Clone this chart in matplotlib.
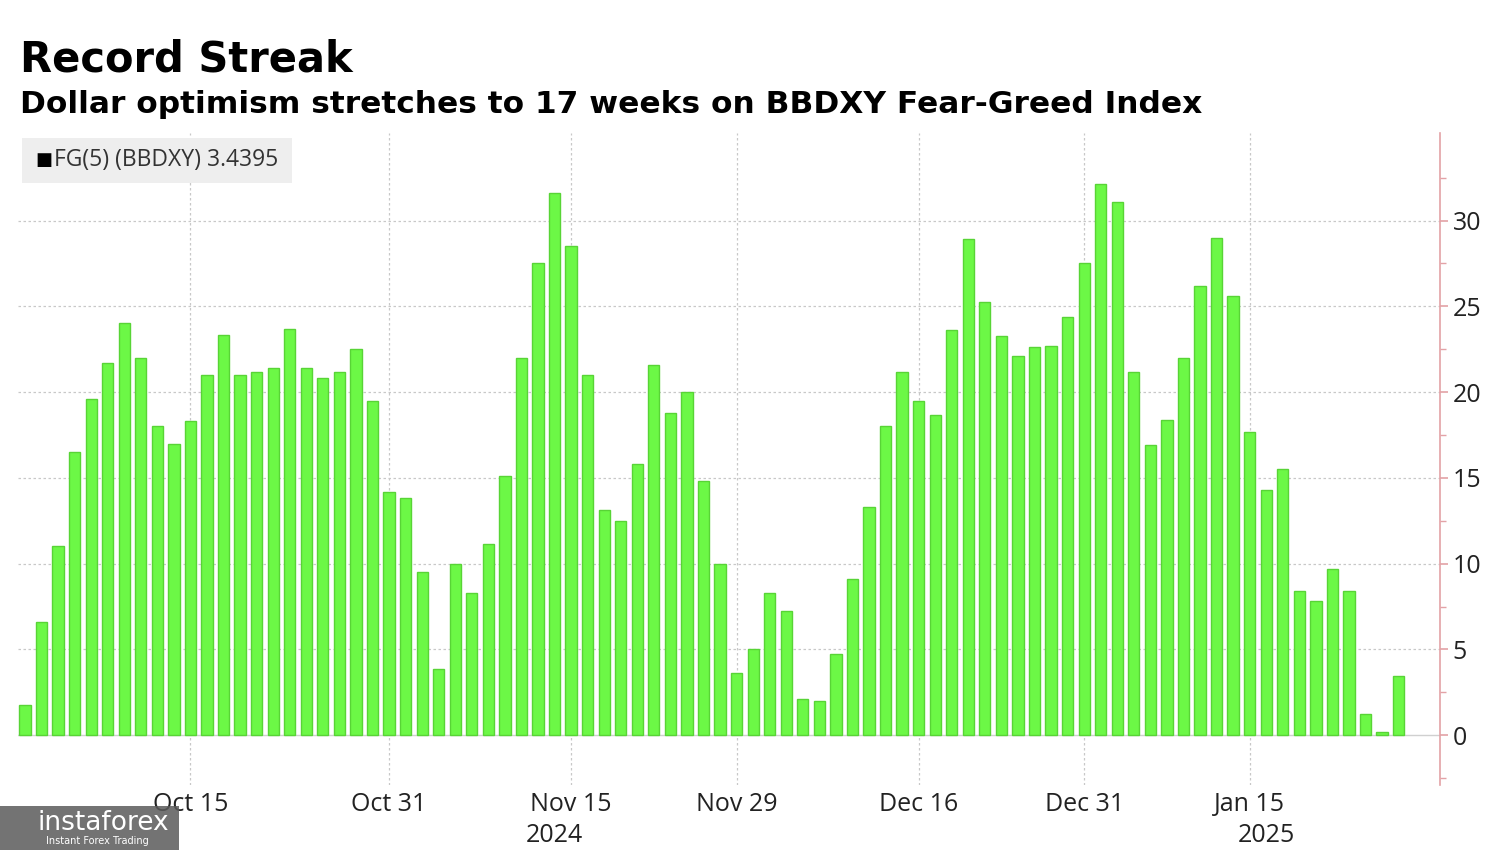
import pandas as pd
import numpy as np
import matplotlib.pyplot as plt
from matplotlib.transforms import blended_transform_factory
from matplotlib.patches import Rectangle

# daily (business day) FG(5) values, Oct 1 2024 - Jan 28 2025
values = [1.75, 6.6, 11.0, 16.5, 19.6, 21.7, 24.0, 22.0, 18.0, 17.0,
          18.3, 21.0, 23.3, 21.0, 21.15, 21.4, 23.7, 21.4, 20.8, 21.15,
          22.5, 19.5, 14.2, 13.85, 9.5, 3.85, 10.0, 8.3, 11.15, 15.1,
          22.0, 27.5, 31.6, 28.5, 21.0, 13.1, 12.5, 15.8, 21.6, 18.8,
          20.0, 14.8, 9.96, 3.6, 5.05, 8.3, 7.26, 2.14, 1.97, 4.74,
          9.1, 13.3, 18.0, 21.2, 19.5, 18.65, 23.6, 28.9, 25.25, 23.26,
          22.1, 22.65, 22.7, 24.4, 27.5, 32.1, 31.1, 21.2, 16.9, 18.35,
          22.0, 26.2, 29.0, 25.6, 17.7, 14.3, 15.5, 8.4, 7.8, 9.7,
          8.4, 1.25, 0.18, 3.4395]
holidays = ['2024-12-25', '2025-01-01']
dates = pd.bdate_range('2024-10-01', '2025-01-28', freq='C', holidays=holidays)

tick_dates = ['2024-10-15', '2024-10-31', '2024-11-15', '2024-11-29',
              '2024-12-16', '2024-12-31', '2025-01-15']
tick_labels = ['Oct 15', 'Oct 31', 'Nov 15', 'Nov 29', 'Dec 16', 'Dec 31', 'Jan 15']
year_labels = ['2024', '2025']
year_pos = ['2024-11-14', '2025-01-16']

bar_green = '#6cf846'
edge_green = '#58d436'
axis_red = '#e3a2a6'
grid_col = '#c8c8c8'

fig = plt.figure(figsize=(15, 8.5), dpi=100)
ax = fig.add_axes([0.012, 0.0765, 0.948, 0.767])

x = np.arange(len(values))
ax.bar(x, values, width=0.68, color=bar_green, edgecolor=edge_green, linewidth=1.0, zorder=3)

ax.set_xlim(-0.42, 85.5)
ax.set_ylim(-2.9, 35.1)

# gridlines
idx = {d.strftime('%Y-%m-%d'): i for i, d in enumerate(dates)}
tick_pos = [idx[d] for d in tick_dates]
for p in tick_pos:
    ax.axvline(p, color=grid_col, ls=(0, (2, 2)), lw=0.9, zorder=1)
for v in range(5, 35, 5):
    ax.axhline(v, color=grid_col, ls=(0, (2, 2)), lw=0.9, zorder=1)
ax.axhline(0, color='#d0d0d0', lw=1.0, zorder=2)

ax.set_xticks(tick_pos)
ax.set_xticklabels(tick_labels, fontsize=18, color='#222222', family='Open Sans')
ax.tick_params(axis='x', length=0, pad=5)

trans = blended_transform_factory(ax.transData, ax.transAxes)
for lab, d in zip(year_labels, year_pos):
    ax.text(idx[d], -0.077, lab, transform=trans, ha='center', va='center',
            fontsize=18, color='#222222', family='Open Sans')

# right axis
ax.yaxis.tick_right()
ax.set_yticks(range(0, 35, 5))
ax.set_yticks(np.arange(-2.5, 35, 2.5), minor=True)
ax.tick_params(axis='y', which='major', length=6, width=1.2, color=axis_red,
               labelsize=18, labelcolor='#222222', pad=3)
ax.tick_params(axis='y', which='minor', length=4, width=1.0, color=axis_red)
for lab in ax.get_yticklabels():
    lab.set_family('Open Sans')
for s in ['left', 'top', 'bottom']:
    ax.spines[s].set_visible(False)
ax.spines['right'].set_color(axis_red)
ax.spines['right'].set_linewidth(1.2)

# legend box
ax.add_patch(Rectangle((0.003, 0.923), 0.19, 0.069, transform=ax.transAxes,
                       facecolor='#eeeeee', edgecolor='none', zorder=4))
ax.text(0.012, 0.958, '\u25a0', transform=ax.transAxes, fontsize=13, va='center',
        ha='left', color='black', zorder=5)
ax.text(0.025, 0.958, 'FG(5) (BBDXY) 3.4395', transform=ax.transAxes, fontsize=16.5,
        va='center', ha='left', color='#333333', family='Open Sans', zorder=5)

# titles
fig.text(0.013, 0.93, 'Record Streak', fontsize=30, fontweight='bold', color='black',
         va='center', ha='left', family='DejaVu Sans')
fig.text(0.013, 0.877, 'Dollar optimism stretches to 17 weeks on BBDXY Fear-Greed Index',
         fontsize=22.5, fontweight='bold', color='black', va='center', ha='left',
         family='DejaVu Sans')

# watermark
fig.patches.append(Rectangle((0, 0), 0.119, 0.052, transform=fig.transFigure,
                             facecolor='#5a5a5a', edgecolor='none', alpha=0.85))
fig.text(0.025, 0.032, 'instaforex', fontsize=19, color='white', va='center', ha='left')
fig.text(0.031, 0.01, 'Instant Forex Trading', fontsize=7, color='white', va='center', ha='left')

fig.savefig('out.png', dpi=100)
